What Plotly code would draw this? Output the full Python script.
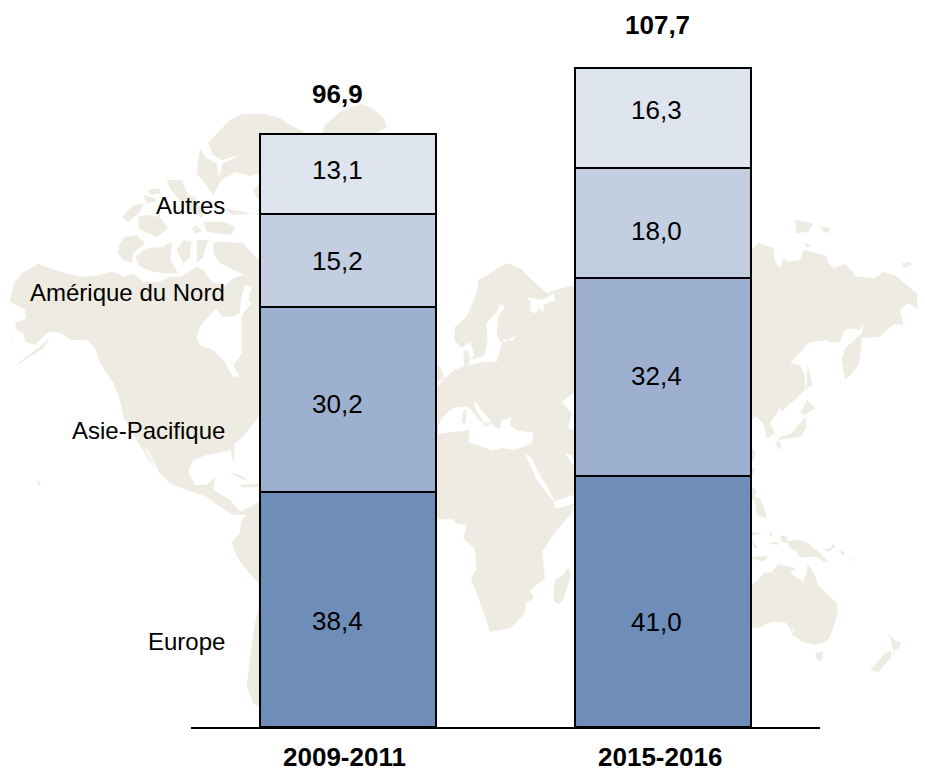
import plotly.graph_objects as go

periods = ["2009-2011", "2015-2016"]
series_names = ["Europe", "Asie-Pacifique", "Amérique du Nord", "Autres"]
europe = [38.4, 41.0]
asie_pacifique = [30.2, 32.4]
amerique_du_nord = [15.2, 18.0]
autres = [13.1, 16.3]
totals = [96.9, 107.7]
series_values = [europe, asie_pacifique, amerique_du_nord, autres]
series_colors = ["#6E8DB9", "#9EB0CF", "#C3CEE1", "#DFE5EF"]

FONT = "Liberation Sans, Arial, sans-serif"
LAND = "#EEECE2"
PAGE = 8
L, W = 191, 629
AXIS_Y = 727
H = AXIS_Y - PAGE


def c(ox, oy, pts):
    return [(ox + x / 3, oy + y / 3) for x, y in pts]


A = (0, 100)
B = (100, 400)
E = (435, 280)
F = (435, 480)
R = (745, 220)
S = (745, 440)

north_america = (
    c(*A, [(30, 605), (42, 550), (65, 520), (115, 492), (150, 505), (200, 520), (250, 530), (300, 525), (330, 515),
           (350, 520), (370, 530), (400, 520), (430, 545), (480, 545), (510, 530), (540, 530), (560, 520), (590, 500),
           (610, 510), (635, 545), (670, 560), (700, 535), (730, 525), (790, 560), (800, 800)])
    + c(*B, [(480, 45), (430, 110), (405, 130), (400, 195), (392, 150), (350, 160), (320, 165), (280, 180), (265, 215),
             (285, 255), (320, 255), (345, 230), (340, 270), (390, 300), (420, 335), (450, 320), (470, 310), (490, 300),
             (440, 345), (400, 345), (360, 320), (320, 290), (260, 270), (210, 250), (170, 210), (140, 170), (110, 120),
             (70, 50), (60, 0)])
    + c(*A, [(340, 850), (300, 790), (285, 745), (260, 720), (215, 720), (180, 700), (155, 695), (140, 700), (105, 735),
             (75, 725), (70, 700), (50, 690), (45, 670), (78, 655), (75, 630)])
)
south_america = c(*B, [(470, 310), (425, 360), (420, 395), (395, 430), (410, 470), (440, 510), (475, 550), (475, 620),
                       (460, 700), (450, 770), (440, 860), (460, 910), (480, 925), (600, 900), (600, 300)])
greenland = [(208, 143), (213, 155), (222, 160), (240, 155), (222, 164), (220, 175), (222, 180), (236, 172), (250, 176),
             (265, 172), (300, 170), (300, 134), (305, 132), (290, 125), (280, 118), (265, 114), (243, 114), (230, 120),
             (220, 130)]
greenland_east = [(300, 180), (300, 134), (322, 134), (325, 125), (340, 112), (360, 104), (372, 108), (384, 118),
                  (387, 127), (375, 134), (375, 180)]

eurasia_africa = (
    c(*E, [(-20, 320), (8, 318), (30, 295), (55, 272), (88, 258), (85, 212), (100, 212), (105, 240), (118, 225),
           (105, 185), (80, 205), (58, 180), (60, 140), (95, 110), (125, 40), (130, 0)])
    + [(507, 263), (520, 268), (532, 280), (547, 293), (555, 290), (575, 285)]
    + c(*R, [(20, 90), (40, 68), (85, 85), (90, 125), (105, 145), (115, 118), (130, 125), (165, 120), (175, 90),
             (245, 108), (250, 130), (268, 145), (298, 132), (325, 155), (330, 168), (385, 175), (405, 165), (410, 155),
             (450, 165), (510, 215), (540, 230), (540, 278), (520, 270), (490, 250), (465, 270), (475, 315), (447, 312),
             (403, 350), (350, 355), (350, 375), (345, 405), (343, 430), (325, 455), (300, 480), (290, 420), (300, 385),
             (350, 340), (355, 310), (345, 330), (320, 325), (300, 330), (285, 365), (258, 368), (245, 360), (210, 365),
             (190, 370), (135, 430), (165, 435), (180, 470), (180, 510), (110, 575), (105, 565), (75, 610), (90, 640),
             (65, 655), (55, 610), (30, 590), (20, 600), (20, 720)])
    + c(*F, [(430, 70), (415, 75), (410, 100), (350, 170), (322, 215), (330, 295), (285, 330), (297, 355), (272, 370),
             (270, 400), (225, 445), (165, 455), (150, 410), (130, 355), (108, 295), (125, 265), (118, 205), (85, 175),
             (95, 135), (60, 130), (55, 118), (8, 118), (-20, 118)])
)

land_polys = [
    north_america, south_america, greenland, greenland_east, eurasia_africa,
    [(252, 198), (257, 198), (253, 190), (262, 180), (268, 198)],
    c(*A, [(600, 145), (615, 170), (650, 190), (655, 220), (665, 240), (640, 285), (615, 250), (590, 220), (595, 175)]),
    c(*A, [(610, 365), (670, 365), (705, 380), (695, 405), (620, 395)]),
    c(*A, [(670, 325), (780, 345), (790, 300), (770, 340), (700, 345)]),
    c(*A, [(500, 240), (545, 240), (565, 285), (585, 290), (610, 340), (605, 355), (570, 330), (530, 290), (510, 265)]),
    c(*A, [(445, 270), (480, 265), (480, 280), (450, 285)]),
    c(*A, [(430, 285), (465, 295), (470, 305), (440, 310)]),
    c(*A, [(365, 350), (400, 315), (430, 310), (420, 335), (385, 365)]),
    c(*A, [(415, 350), (440, 345), (480, 350), (505, 385), (470, 410), (440, 400), (415, 385)]),
    c(*A, [(575, 385), (590, 375), (605, 395), (585, 400)]),
    c(*A, [(360, 430), (375, 410), (410, 405), (435, 430), (400, 460), (395, 490), (370, 480), (352, 460)]),
    c(*A, [(405, 470), (440, 445), (490, 440), (505, 430), (518, 430), (510, 480), (535, 520), (490, 520), (460, 515),
           (420, 500)]),
    c(*A, [(530, 450), (550, 420), (575, 425), (570, 470), (550, 490)]),
    c(*A, [(590, 420), (625, 420), (610, 470), (590, 490)]),
    c(*A, [(640, 430), (670, 425), (730, 430), (785, 490), (785, 570), (745, 530), (700, 510), (660, 490), (640, 460)]),
    c(*A, [(150, 715), (130, 745), (60, 790), (52, 795), (60, 785), (125, 735)]),
    c(*A, [(30, 705), (40, 708), (38, 713)]),
    c(*B, [(385, 215), (420, 225), (450, 245), (420, 235)]),
    c(*B, [(420, 255), (475, 250), (475, 262), (425, 262)]),
    [(37, 479), (41, 484), (38, 486)],
    c(*E, [(-10, 245), (20, 265), (27, 297), (-10, 310)]),
    c(*F, [(355, 345), (360, 300), (385, 285), (400, 262), (408, 285), (385, 360), (372, 373), (358, 365)]),
    c(*R, [(150, 0), (205, 10), (190, 35), (155, 40)]),
    c(*R, [(225, 18), (255, 25), (250, 40), (235, 35)]),
    c(*R, [(178, 65), (200, 80), (185, 82)]),
    c(*R, [(470, 130), (495, 125), (500, 135), (475, 143)]),
    c(*R, [(188, 435), (203, 498), (190, 500), (183, 515)]),
    c(*R, [(185, 540), (213, 565), (195, 575), (175, 585), (165, 575), (175, 565)]),
    c(*R, [(180, 588), (185, 625), (165, 650), (140, 655), (100, 660), (105, 650), (140, 640), (150, 625), (170, 605)]),
    c(*R, [(90, 665), (105, 665), (108, 680), (100, 690)]),
    c(*R, [(285, 485), (290, 480), (288, 490)]),
    c(*S, [(15, 15), (32, 40), (25, 60), (15, 70)]),
    c(*S, [(15, 80), (30, 85), (22, 105)]),
    c(*S, [(15, 140), (35, 150), (30, 170), (45, 175), (60, 210), (65, 235), (35, 225), (30, 185), (15, 175)]),
    c(*S, [(15, 275), (55, 280), (15, 285)]),
    c(*S, [(15, 295), (40, 325), (30, 325)]),
    c(*S, [(70, 270), (83, 285), (75, 290)]),
    c(*S, [(65, 310), (100, 305), (100, 315)]),
    c(*S, [(105, 285), (125, 290), (130, 310), (110, 305)]),
    c(*S, [(130, 305), (150, 298), (185, 305), (225, 340), (250, 367), (235, 365), (215, 350), (165, 352), (155, 335),
           (130, 320)]),
    c(*S, [(235, 328), (258, 325), (262, 310), (272, 320), (250, 335)]),
    c(*S, [(285, 325), (300, 340), (290, 345)]),
    c(*S, [(320, 355), (330, 360), (323, 363)]),
    c(*S, [(15, 350), (70, 348), (55, 365), (45, 363), (15, 355)]),
    c(*S, [(10, 440), (40, 420), (55, 400), (80, 395), (100, 373), (135, 380), (150, 385), (135, 400), (175, 425),
           (185, 395), (188, 370), (205, 395), (220, 435), (275, 490), (278, 520), (260, 580), (245, 605), (210, 615),
           (170, 605), (155, 590), (140, 585), (150, 560), (140, 575), (125, 550), (90, 545), (65, 550), (50, 562),
           (10, 565)]),
    c(*S, [(210, 640), (235, 635), (232, 660), (218, 665)]),
    c(*S, [(375, 690), (420, 640), (438, 632), (440, 650), (400, 697)]),
    c(*S, [(427, 578), (445, 595), (450, 602), (470, 605), (462, 625), (445, 632), (440, 610), (437, 595)]),
]

sea_polys = [
    c(*A, [(590, 710), (600, 680), (625, 650), (650, 625), (665, 650), (700, 650), (720, 640), (722, 600), (735, 555),
           (755, 560), (745, 600), (755, 610), (725, 645), (725, 700), (725, 760), (700, 795), (717, 828), (700, 832),
           (670, 780), (640, 750), (600, 735)]),
    c(*B, [(135, 145), (142, 148), (178, 215), (170, 212)]),
    c(*E, [(195, 72), (210, 80), (190, 110), (185, 165), (200, 190), (245, 165), (235, 180), (205, 178), (195, 210),
           (185, 245), (155, 245), (100, 255), (105, 240), (148, 228), (158, 180), (155, 130), (185, 95)]),
    c(*E, [(270, 50), (285, 60), (288, 95), (305, 100), (310, 85), (328, 95), (325, 75), (360, 60), (355, 40), (340, 50),
           (320, 60)]),
    c(*E, [(10, 435), (25, 410), (45, 390), (70, 380), (95, 380), (110, 390), (130, 420), (143, 425), (150, 440),
           (170, 430), (185, 445), (195, 445), (200, 420), (240, 410), (225, 420), (225, 435), (245, 450), (270, 455),
           (295, 455), (290, 490), (240, 510), (200, 505), (170, 512), (130, 495), (100, 488), (105, 450), (60, 455),
           (10, 462)]),
    c(*E, [(118, 360), (135, 385), (165, 420), (170, 430), (145, 425), (120, 385)]),
    c(*E, [(380, 365), (415, 340), (430, 340), (430, 455), (400, 445), (410, 400)]),
    c(*E, [(270, 520), (290, 535), (322, 600), (305, 600)]),
    c(*E, [(390, 520), (410, 525), (425, 565), (410, 550)]),
    c(*F, [(305, 0), (325, 0), (360, 65), (345, 50)]),
    c(*F, [(355, 65), (415, 45), (430, 45), (430, 68), (362, 85)]),
]
islands_in_seas = [
    c(*E, [(85, 390), (95, 390), (93, 430), (80, 430)]),
]


def path_of(points):
    parts = []
    for i, (px, py) in enumerate(points):
        xp = (px - L) / W
        yp = (AXIS_Y - py) / H
        parts.append(f"{'M' if i == 0 else 'L'}{xp:.4f},{yp:.4f}")
    return " ".join(parts) + " Z"


fig = go.Figure()

for points in land_polys:
    fig.add_shape(type="path", path=path_of(points), xref="paper", yref="paper", fillcolor=LAND,
                  line_width=0, layer="below")
for points in sea_polys:
    fig.add_shape(type="path", path=path_of(points), xref="paper", yref="paper", fillcolor="#FFFFFF",
                  line_width=0, layer="below")
for points in islands_in_seas:
    fig.add_shape(type="path", path=path_of(points), xref="paper", yref="paper", fillcolor=LAND,
                  line_width=0, layer="below")

for name, vals, color in zip(series_names, series_values, series_colors):
    fig.add_trace(go.Bar(x=periods, y=vals, name=name, width=0.56, marker=dict(color=color, line=dict(color="#000000", width=2))))

annotations = []
value_yshift = [[-11, -4, 0, 4], [-20, 1, -8, 8]]
period_xshift = [-11, -6]
label_yshift = [-32, -31, -32, -31]

for p, period in enumerate(periods):
    base = 0.0
    for s, vals in enumerate(series_values):
        annotations.append(dict(x=period, y=base + vals[p] / 2, xref="x", yref="y", showarrow=False,
                                text=f"{vals[p]:.1f}".replace(".", ","), xshift=period_xshift[p],
                                yshift=value_yshift[p][s], font=dict(size=26, color="#000000", family=FONT)))
        if p == 0:
            annotations.append(dict(x=period, y=base + vals[p] / 2, xref="x", yref="y", showarrow=False,
                                    text=series_names[s], xanchor="right", xshift=-121, yshift=label_yshift[s],
                                    font=dict(size=24, color="#000000", family=FONT)))
        base += vals[p]
    annotations.append(dict(x=period, y=totals[p], xref="x", yref="y", showarrow=False,
                            text=f"<b>{totals[p]:.1f}</b>".replace(".", ","), xshift=[-11, -5][p],
                            yshift=[40, 43][p], font=dict(size=26, color="#000000", family=FONT)))
    annotations.append(dict(x=period, y=0, xref="x", yref="y", showarrow=False, text=f"<b>{period}</b>",
                            xshift=[-4, -3][p], yshift=-30, font=dict(size=26, color="#000000", family=FONT)))

fig.update_layout(
    width=917, height=763, barmode="stack", showlegend=False,
    paper_bgcolor="#FFFFFF", plot_bgcolor="rgba(0,0,0,0)",
    margin=dict(l=L - PAGE, r=917 - (L - PAGE) - W, t=0, b=763 - H, pad=0),
    xaxis=dict(type="category", range=[-0.5, 1.5], showline=True, linecolor="#000000", linewidth=2, ticks="",
               showticklabels=False, showgrid=False, zeroline=False),
    yaxis=dict(range=[0, H / 6.12], visible=False, showgrid=False, zeroline=False),
    annotations=annotations,
)

fig.write_html("out.html")
